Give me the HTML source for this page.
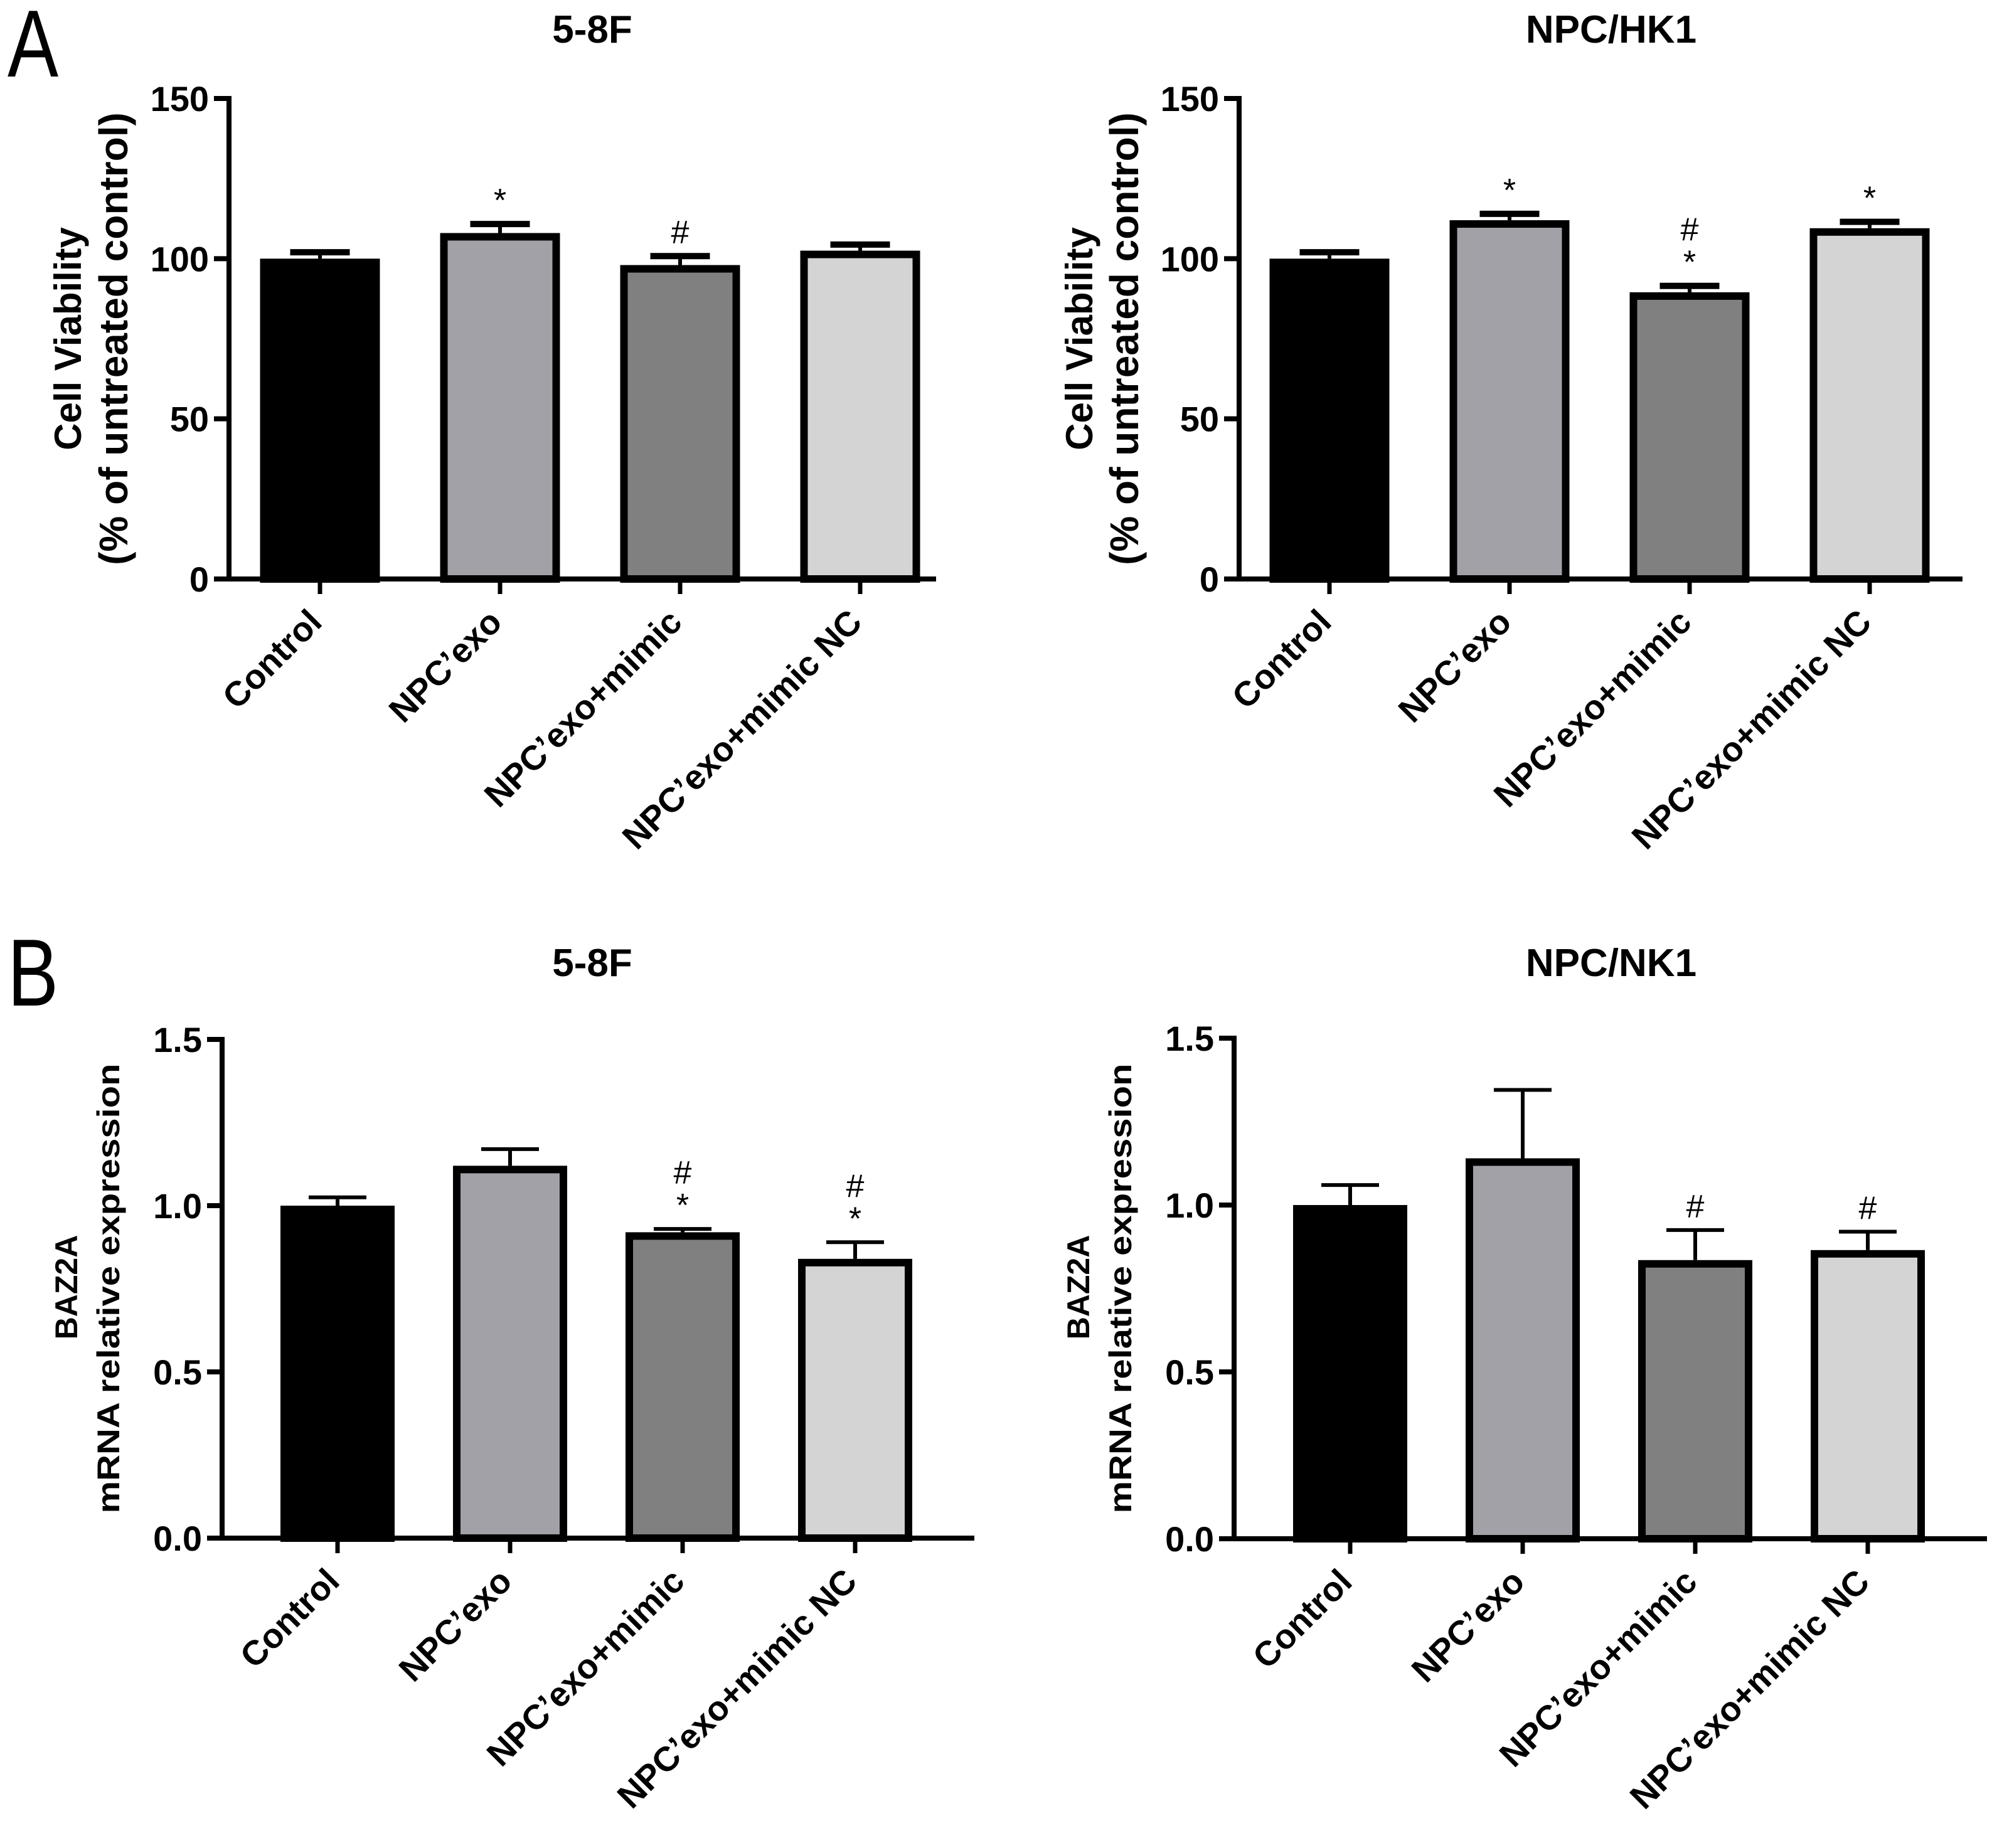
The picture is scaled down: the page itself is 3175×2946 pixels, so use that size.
<!DOCTYPE html>
<html><head><meta charset="utf-8"><style>
html,body{margin:0;padding:0;background:#fff}
svg{display:block}
text{font-family:"Liberation Sans",Arial,sans-serif;fill:#000}
</style></head><body>
<svg id="fig" width="3175" height="2946" viewBox="0 0 3175 2946" xmlns="http://www.w3.org/2000/svg">
<text x="0" y="0" font-size="152" transform="translate(12 122) scale(0.8 1)">A</text>
<text x="0" y="0" font-size="152" transform="translate(12 1603) scale(0.8 1)">B</text>
</svg>
<script>
const categories = ["Control", "NPC\u2019exo", "NPC\u2019exo+mimic", "NPC\u2019exo+mimic NC"];
const colors = ["#000000", "#a1a1a7", "#808080", "#d4d4d4"];
const a1Values = [100, 108, 98, 102.5];
const a1Errors = [102, 110.8, 100.8, 104.4];
const a1Marks = ["", "*", "#", ""];
const a2Values = [100, 112, 89.5, 109.5];
const a2Errors = [102, 114, 91.5, 111.5];
const a2Marks = ["", "*", "#\n*", "*"];
const b1Values = [1.0, 1.12, 0.92, 0.84];
const b1Errors = [1.025, 1.17, 0.93, 0.89];
const b1Marks = ["", "", "#\n*", "#\n*"];
const b2Values = [1.0, 1.14, 0.835, 0.865];
const b2Errors = [1.06, 1.345, 0.925, 0.92];
const b2Marks = ["", "", "#", "#"];
const aTicks = [0, 50, 100, 150];
const aTickLabels = ["0", "50", "100", "150"];
const bTicks = [0, 0.5, 1.0, 1.5];
const bTickLabels = ["0.0", "0.5", "1.0", "1.5"];

const NS = "http://www.w3.org/2000/svg";
const svg = document.getElementById("fig");
function mk(tag, attrs, parent) {
  const e = document.createElementNS(NS, tag);
  for (const k in attrs) e.setAttribute(k, attrs[k]);
  (parent || svg).appendChild(e);
  return e;
}

function panel(p) {
  const g = mk("g", {});
  
  
  const yS = v => p.y0 - (v - 0) / p.yMax * (p.y0 - p.yTop);
  const xS = i => p.x0c + i * p.step;
  const t = mk("text", {x: p.titleX, y: p.titleY, "font-size": 62, "font-weight": "bold", "text-anchor": "middle"}, g);
  t.textContent = p.title;
  
  
  p.ylab.forEach(l => {
    const at = {x: l.x, y: l.cy, "font-size": l.fs, "font-weight": l.bold ? "bold" : "normal", "text-anchor": "middle", transform: `rotate(-90 ${l.x} ${l.cy})`};
    if (!l.baseline) at["dominant-baseline"] = "middle";
    if (l.len) { at.textLength = l.len; at.lengthAdjust = "spacingAndGlyphs"; }
    const yl = mk("text", at, g);
    yl.textContent = l.text;
    
    
  });
  p.values.forEach((v, i) => {
    const cx = xS(i);
    const top = yS(v);
    const er = yS(p.errors[i]);
    const el = mk("line", {x1: cx, x2: cx, y1: top, y2: er, stroke: "#000", "stroke-width": 6}, g);
    
    
    const cap = mk("line", {x1: cx - p.capW / 2, x2: cx + p.capW / 2, y1: er, y2: er, stroke: "#000", "stroke-width": p.capT}, g);
    
    
    const r = mk("rect", {x: cx - p.barW / 2 + 6, y: top + 6, width: p.barW - 12, height: p.y0 - top - 6, fill: colors[i], stroke: "#000", "stroke-width": 12}, g);
    
    
    const m = p.marks[i];
    if (m) {
      const parts = m.split("\n");
      parts.forEach((s, k) => {
        const tx = mk("text", {x: cx, y: er - 50 - (parts.length - 1 - k) * 52 + 30, "font-size": 52, "text-anchor": "middle"}, g);
        tx.textContent = s;
        
        
      });
    }
    const xt = mk("line", {x1: cx, x2: cx, y1: p.y0, y2: p.y0 + 24, stroke: "#000", "stroke-width": 7}, g);
    
    
    const ax = cx + 6, ay = p.y0 + 72;
    const lb = mk("text", {x: ax, y: ay, "font-size": 55, "font-weight": "bold", "text-anchor": "end", transform: `rotate(-45 ${ax} ${ay})`}, g);
    lb.textContent = categories[i];
    
    
  });
  const ya = mk("line", {x1: p.xAxis, x2: p.xAxis, y1: p.yTop - 4, y2: p.y0 + 4, stroke: "#000", "stroke-width": 8}, g);
  
  
  const xa = mk("line", {x1: p.xAxis - 24, x2: p.xEnd, y1: p.y0, y2: p.y0, stroke: "#000", "stroke-width": 8}, g);
  
  
  p.ticks.forEach((tv, k) => {
    const y = yS(tv);
    const tk = mk("line", {x1: p.xAxis - 24, x2: p.xAxis, y1: y, y2: y, stroke: "#000", "stroke-width": 8}, g);
    
    
    const tl = mk("text", {x: p.xAxis - 32, y: y + 20, "font-size": 56, "font-weight": "bold", "text-anchor": "end"}, g);
    tl.textContent = p.tickLabels[k];
    
    
  });
}

panel({name: "chart-a-5-8f", title: "5-8F", titleX: 944, titleY: 68, xAxis: 365, xEnd: 1492, y0: 923, yTop: 157, yMax: 150,
  x0c: 510, step: 287, barW: 191, capW: 95, capT: 10, values: a1Values, errors: a1Errors, marks: a1Marks, ticks: aTicks, tickLabels: aTickLabels,
  ylab: [{x: 113, cy: 540, text: "Cell Viability", fs: 60, bold: true}, {x: 186, cy: 540, text: "(% of untreated control)", fs: 64, bold: true}]});
panel({name: "chart-a-npc-hk1", title: "NPC/HK1", titleX: 2568, titleY: 68, xAxis: 1975, xEnd: 3128, y0: 923, yTop: 157, yMax: 150,
  x0c: 2119, step: 287, barW: 191, capW: 95, capT: 10, values: a2Values, errors: a2Errors, marks: a2Marks, ticks: aTicks, tickLabels: aTickLabels,
  ylab: [{x: 1725, cy: 540, text: "Cell Viability", fs: 60, bold: true}, {x: 1797, cy: 540, text: "(% of untreated control)", fs: 64, bold: true}]});
panel({name: "chart-b-5-8f", title: "5-8F", titleX: 944, titleY: 1556, xAxis: 354, xEnd: 1553, y0: 2452, yTop: 1657, yMax: 1.5,
  x0c: 538, step: 275, barW: 182, capW: 92, capT: 6, values: b1Values, errors: b1Errors, marks: b1Marks, ticks: bTicks, tickLabels: bTickLabels,
  ylab: [{x: 123, cy: 2052, text: "BAZ2A", fs: 50, bold: true, baseline: true}, {x: 190, cy: 2054, text: "mRNA relative expression", fs: 50, bold: true, len: 717, baseline: true}]});
panel({name: "chart-b-npc-nk1", title: "NPC/NK1", titleX: 2568, titleY: 1556, xAxis: 1967, xEnd: 3167, y0: 2453, yTop: 1655, yMax: 1.5,
  x0c: 2152, step: 275, barW: 182, capW: 92, capT: 6, values: b2Values, errors: b2Errors, marks: b2Marks, ticks: bTicks, tickLabels: bTickLabels,
  ylab: [{x: 1736, cy: 2052, text: "BAZ2A", fs: 50, bold: true, baseline: true}, {x: 1803, cy: 2054, text: "mRNA relative expression", fs: 50, bold: true, len: 717, baseline: true}]});
</script>
</body></html>
